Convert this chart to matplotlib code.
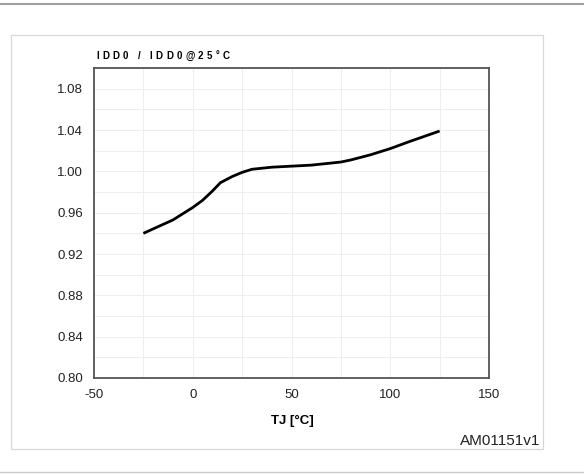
import matplotlib
matplotlib.use("Agg")
import matplotlib.pyplot as plt
from matplotlib.patches import Rectangle
from matplotlib.lines import Line2D
import numpy as np

tj = [-25, -10, 0, 5, 10, 14, 20, 25, 30, 40, 50, 60, 70, 75, 80, 90, 100, 110, 125]
ratio = [0.940, 0.953, 0.965, 0.972, 0.981, 0.989, 0.995, 0.999, 1.002, 1.004,
         1.005, 1.006, 1.008, 1.009, 1.011, 1.016, 1.022, 1.029, 1.039]
x_ticks = [-50, 0, 50, 100, 150]
y_ticks = [0.80, 0.84, 0.88, 0.92, 0.96, 1.00, 1.04, 1.08]
y_title = "IDD0 / IDD0@25°C"

plt.rcParams['font.family'] = ['Liberation Sans', 'DejaVu Sans']

fig = plt.figure(figsize=(5.84, 4.74), dpi=100)
W, H = 584, 474

fig.add_artist(Line2D([0, 1], [1 - 3.5 / H, 1 - 3.5 / H], transform=fig.transFigure,
                      color='#a0a0a0', lw=1.5))
fig.add_artist(Line2D([0, 1], [1 - 472 / H, 1 - 472 / H], transform=fig.transFigure,
                      color='#c8c8c8', lw=1.0))
fig.add_artist(Rectangle((11 / W, 1 - 449 / H), (543 - 11) / W, (449 - 35) / H,
                         transform=fig.transFigure, fill=False, edgecolor='#d8d8d8', lw=0.9))

ax = fig.add_axes([94 / W, 1 - 378 / H, (489 - 94) / W, (378 - 68) / H])
ax.plot(tj, ratio, color='black', lw=2.0, solid_capstyle='butt')
ax.set_xlim(-50, 150)
ax.set_ylim(0.80, 1.10)
ax.set_xticks(x_ticks)
ax.set_xticklabels([str(v) for v in x_ticks])
ax.set_yticks(y_ticks)
ax.set_yticklabels([f"{v:.2f}" for v in y_ticks])
ax.set_xticks(np.arange(-50, 151, 25), minor=True)
ax.set_yticks(np.arange(0.80, 1.101, 0.02), minor=True)
ax.grid(which='both', color='#eeeeee', lw=0.8)
ax.set_axisbelow(True)
ax.tick_params(which='both', length=0, labelsize=9.5, colors='#222222', pad=8)
for s in ax.spines.values():
    s.set_color('#555555')
    s.set_linewidth(1.3)

# letter-spaced title above the axes
renderer = fig.canvas.get_renderer()
xpix = 96.0
tracking = 3.4
for ch in y_title:
    t = fig.text(xpix / W, 1 - 56 / H, ch, fontsize=7, fontweight='bold',
                 ha='left', va='center')
    if ch == ' ':
        w = 2.5
    else:
        w = t.get_window_extent(renderer=renderer).width
    xpix += w + tracking

fig.text(292 / W, 1 - 421 / H, "TJ [°C]", fontsize=9.5, fontweight='bold',
         ha='center', va='center')
fig.text(540 / W, 1 - 441 / H, "AM01151v1", fontsize=11, ha='right', va='center',
         color='#222222')

fig.savefig("out.png", dpi=100)
